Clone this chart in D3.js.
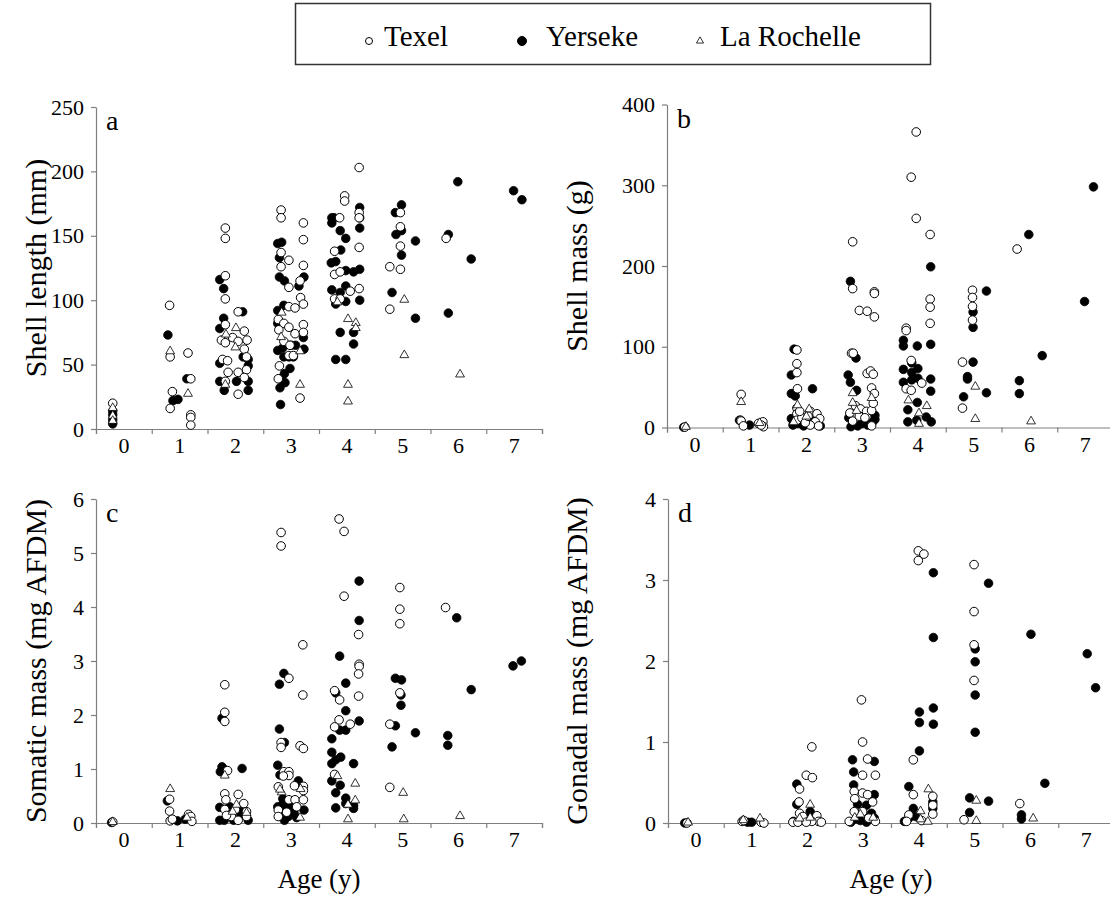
<!DOCTYPE html>
<html><head><meta charset="utf-8">
<script src="https://cdn.jsdelivr.net/npm/d3@7"></script>
<style>
html,body{margin:0;padding:0;background:#fff;}
svg text{font-family:"Liberation Serif","DejaVu Serif","Times New Roman",Times,serif;fill:#000;}
</style></head>
<body>
<svg id="chart" width="1110" height="899"></svg>
<script>
// ---------- DATA ----------
const ages = [0,1,2,3,4,5,6,7];
const sites = ["Texel","Yerseke","La Rochelle"];

// Panel a: shell length (mm), [age, value]
const aTexel = [[-0.2,20],
[0.82,96],[0.83,56],[1.15,59],[1.2,39],[0.87,29],[0.83,16],[1.2,11],[1.2,9],[1.2,3],
[1.82,156],[1.82,148],[1.82,119],[1.82,101],[2.05,91],[1.82,81],[2.16,76],[1.75,69],[1.82,67],[1.95,71],[2.05,68],[2.21,69],[2.16,62],[2.2,56],[1.77,54],[1.86,53],[2.2,46],[1.87,44],[2.05,44],[2.16,40],[1.82,37],[2.05,27],
[2.82,170],[2.82,164],[3.22,160],[3.22,147],[2.82,137],[2.96,131],[2.82,126],[3.22,127],[3.16,115],[2.96,110],[3.17,102],[3.22,97],[2.96,95],[3.07,94],[2.77,85],[2.87,82],[2.96,79],[3.22,81],[2.78,77],[3.07,74],[3.22,75],[2.87,68],[2.98,65],[2.96,57],[3.04,57],[2.79,49],[2.77,39],[3.16,24],
[4.22,203],[3.96,181],[3.96,177],[3.87,164],[4.22,168],[4.22,164],[4.22,141],[3.78,138],[3.78,120],[3.88,122],[4.22,109],[4.06,107],[3.78,101],[3.88,101],
[4.96,168],[4.96,157],[4.96,142],[4.77,126],[4.96,124],[4.77,93],
[5.78,148]];
const aYerseke = [[-0.2,14],[-0.2,11],[-0.2,7],[-0.2,4],
[0.79,73],[1.13,39],[0.88,22],[0.97,23],
[1.72,116],[1.79,109],[2.13,91],[1.79,86],[1.72,78],[2.14,56],[2.23,54],[1.72,51],[2.23,49],[1.72,37],[2.02,37],[2.23,37],[1.8,30],[2.23,30],
[2.76,144],[2.83,145],[2.79,133],[2.79,118],[2.88,115],[3.23,118],[3.14,111],[2.87,96],[2.76,92],[2.76,82],[3.22,71],[3.0,65],[3.08,65],[2.76,61],[2.85,63],[3.23,62],[2.87,56],[2.96,56],[3.04,56],[2.98,47],[2.88,43],[2.81,39],[2.89,36],[2.8,32],[2.81,19],
[4.23,172],[3.73,164],[3.77,164],[3.73,160],[4.23,164],[4.23,156],[3.88,154],[3.98,148],[3.89,139],[3.72,129],[3.8,130],[3.98,123],[4.12,122],[4.23,124],[3.98,111],[3.73,108],[3.88,106],[3.98,99],[4.23,100],[3.8,97],[4.12,75],[3.88,75],[4.12,66],[3.8,54],[3.98,54],
[4.98,174],[4.87,168],[4.98,154],[4.88,151],[5.23,146],[4.98,135],[4.81,106],[5.23,86],
[5.99,192],[5.82,151],[6.23,132],[5.82,90],
[6.99,185],[7.14,178]];
const aLaRochelle = [[-0.2,16],[-0.2,10],[-0.2,6],
[0.83,60],[1.15,27],
[2.01,78],[1.83,73],[2.0,63],[1.82,34],
[2.83,90],[2.82,71],[3.16,60],[3.16,34],
[3.83,98],[4.02,85],[4.16,82],[4.16,78],[4.02,34],[4.02,21],
[5.03,100],[5.03,57],
[6.03,42]];

// Panel b: shell mass (g)
const bTexel = [[-0.18,0.5],
[0.83,41],[0.82,9],[0.83,8],[0.87,2],[1.14,5],[1.22,7],[1.23,1],[1.19,3],
[1.83,96],[1.83,79],[1.83,68],[1.84,48],[1.83,24],[1.83,17],[1.83,9],[2.07,20],[2.19,17],[2.24,11],[2.16,7],[2.07,3],[2.22,2],[1.92,12],[1.98,6],[2.03,14],[1.88,20],
[2.83,230],[2.83,172],[2.95,145],[3.22,168],[3.22,166],[3.09,144],[3.22,137],[2.81,92],[2.84,92],[3.09,67],[3.15,70],[3.2,66],[3.17,49],[3.22,42],[2.88,27],[2.97,23],[3.08,20],[3.17,21],[2.83,8],[3.17,2],[2.95,14],[3.05,12],[3.2,30],[2.78,18],
[3.97,366],[3.88,310],[3.97,259],[4.22,239],[4.22,159],[4.22,149],[4.22,129],[3.79,123],[3.79,120],[3.88,83],[4.07,55],[3.79,48],[3.88,46],
[4.98,170],[4.98,161],[4.98,150],[4.98,133],[4.8,81],[4.8,24],
[5.78,221]];
const bYerseke = [[-0.2,0.3],
[0.8,9],[0.98,3],
[1.78,97],[1.73,65],[2.11,48],[1.73,42],[1.8,39],[1.73,11],[1.76,3],[1.95,2],[2.25,2],[2.12,8],[1.85,5],
[2.79,181],[2.89,86],[2.75,65],[2.79,56],[2.9,46],[3.23,15],[3.23,10],[2.76,12],[2.84,4],[2.92,2],[3.0,5],[3.1,3],[3.18,6],[2.8,1],[3.04,8],
[4.23,199],[3.74,108],[3.74,101],[3.99,101],[4.23,103],[3.89,80],[3.74,72],[4.0,73],[3.89,68],[3.89,59],[3.74,56],[4.0,61],[4.23,60],[4.23,45],[3.99,31],[3.82,22],[4.15,13],[3.82,7],[4.24,7],[3.98,9],
[5.23,169],[4.99,143],[4.99,124],[4.99,81],[4.89,63],[4.89,60],[4.82,38],[5.23,43],
[5.99,239],[6.23,89],[5.82,58],[5.82,42],
[7.15,298],[6.99,156]];
const bLaRochelle = [[-0.16,0.3],
[0.83,31],[1.16,5],
[1.84,27],[2.05,22],[1.77,6],[2.0,13],
[2.83,42],[2.83,30],[3.17,36],[2.9,20],
[3.83,33],[4.16,26],[4.02,17],[4.02,4],
[5.03,50],[5.03,10],
[6.03,7]];

// Panel c: somatic mass (mg AFDM)
const cTexel = [[-0.2,0.02],
[0.82,0.44],[0.82,0.22],[0.83,0.04],[0.87,0.07],[1.16,0.16],[1.2,0.12],[1.22,0.03],
[1.81,2.56],[1.81,2.05],[1.81,1.88],[1.86,0.97],[1.81,0.54],[1.83,0.43],[2.05,0.53],[2.15,0.36],[1.81,0.25],[2.2,0.21],[2.2,0.12],[1.93,0.12],[2.05,0.05],[1.84,0.14],[2.0,0.25],
[2.82,5.38],[2.82,5.13],[3.21,3.3],[2.96,2.68],[3.21,2.37],[2.82,1.49],[2.82,1.4],[3.16,1.43],[3.22,1.38],[2.87,0.95],[2.96,0.95],[2.96,0.88],[2.86,0.87],[2.77,0.67],[3.06,0.69],[3.22,0.68],[3.22,0.6],[2.96,0.43],[3.07,0.43],[3.22,0.43],[2.77,0.24],[2.77,0.12],[3.1,0.3],[2.92,0.2],
[3.86,5.63],[3.95,5.4],[3.95,4.2],[4.21,3.49],[4.22,2.94],[4.22,2.9],[4.21,2.76],[3.78,2.45],[3.87,2.28],[4.21,2.35],[3.86,1.91],[3.78,1.78],[4.06,1.83],[3.78,0.9],
[4.95,4.36],[4.95,3.96],[4.95,3.69],[4.95,2.41],[4.77,1.83],[4.77,0.66],
[5.77,3.99]];
const cYerseke = [[-0.22,0.01],
[0.78,0.41],[0.96,0.04],[1.1,0.07],
[1.76,1.94],[1.76,1.04],[1.8,0.99],[1.73,0.95],[2.12,1.01],[1.72,0.29],[2.14,0.24],[1.72,0.05],[1.8,0.05],[1.97,0.05],[2.23,0.05],[2.1,0.15],[1.9,0.3],
[2.87,2.77],[2.79,2.57],[2.79,1.74],[2.88,1.49],[2.76,1.07],[2.8,0.89],[3.13,0.78],[3.23,0.24],[2.85,0.45],[2.85,0.35],[2.9,0.3],[2.95,0.25],[3.0,0.3],[3.05,0.2],[2.8,0.15],[2.88,0.05],[2.95,0.12],[3.1,0.1],[2.76,0.3],
[4.22,4.48],[4.22,3.75],[3.87,3.09],[3.98,2.59],[3.8,2.41],[3.98,2.08],[4.22,1.89],[3.87,1.72],[3.98,1.72],[3.73,1.56],[3.73,1.31],[3.89,1.22],[3.8,1.17],[3.73,1.1],[4.12,1.1],[3.73,0.78],[3.88,0.7],[3.8,0.56],[3.98,0.46],[3.98,0.36],[4.12,0.33],[3.8,0.28],[4.12,0.27],
[4.87,2.68],[4.98,2.65],[4.97,2.37],[4.97,2.18],[4.87,1.8],[5.23,1.67],[4.81,1.41],
[5.97,3.8],[6.23,2.47],[5.81,1.62],[5.81,1.44],
[6.98,2.91],[7.13,3.0]];
const cLaRochelle = [[-0.2,0.01],
[0.83,0.62],[1.13,0.09],
[1.81,0.87],[2.02,0.33],[2.2,0.18],[1.95,0.2],
[2.83,0.56],[3.17,0.62],[3.16,0.09],[2.8,0.61],
[3.83,0.86],[4.15,0.72],[4.15,0.41],[4.02,0.33],[4.02,0.06],
[5.01,0.55],[5.02,0.06],
[6.03,0.12]];

// Panel d: gonadal mass (mg AFDM)
const dTexel = [[-0.16,0.0],
[0.83,0.02],[0.86,0.03],[1.17,0.01],[1.22,0.0],
[2.08,0.94],[1.98,0.59],[2.09,0.56],[1.86,0.42],[1.85,0.26],[1.86,0.12],[1.92,0.08],[2.17,0.09],[2.2,0.02],[2.08,0.02],[1.74,0.01],[1.83,0.01],[1.98,0.01],[2.25,0.01],
[2.97,1.52],[2.99,1.0],[3.08,0.79],[2.99,0.59],[3.22,0.59],[2.84,0.39],[2.99,0.37],[3.08,0.35],[2.85,0.3],[3.17,0.26],[2.99,0.14],[2.84,0.14],[3.22,0.02],[2.75,0.02],[3.1,0.06],
[3.99,3.36],[4.09,3.32],[3.99,3.24],[3.9,0.78],[3.9,0.35],[4.25,0.33],[4.25,0.22],[4.25,0.11],[3.82,0.1],[3.78,0.02],[4.05,0.03],
[4.99,3.19],[4.99,2.61],[4.99,2.2],[4.99,1.76],[4.81,0.04],
[5.81,0.24]];
const dYerseke = [[-0.2,0.0],
[1.0,0.01],[0.93,0.01],
[1.81,0.48],[1.81,0.23],[2.05,0.14],[1.75,0.02],[2.0,0.05],[1.9,0.03],
[2.81,0.78],[3.2,0.76],[2.83,0.63],[2.83,0.47],[3.2,0.35],[2.9,0.23],[3.06,0.22],[3.15,0.12],[3.2,0.06],[2.87,0.05],[2.95,0.03],[3.06,0.01],[2.78,0.01],
[4.26,3.09],[4.26,2.29],[4.01,1.37],[4.01,1.24],[4.26,1.42],[4.26,1.22],[4.01,0.89],[3.82,0.45],[4.25,0.26],[4.25,0.18],[3.9,0.18],[3.74,0.02],[3.82,0.06],[3.94,0.08],
[5.25,2.96],[5.01,2.15],[5.01,1.99],[5.01,1.58],[5.01,1.12],[4.91,0.31],[5.25,0.27],[4.91,0.13],
[6.01,2.33],[6.26,0.49],[5.84,0.1],[5.84,0.05],
[7.02,2.09],[7.17,1.67]];
const dLaRochelle = [[-0.14,0.0],
[0.85,0.03],[1.15,0.05],
[2.05,0.22],[1.86,0.05],[2.05,0.06],
[2.85,0.06],[3.18,0.06],[2.95,0.1],
[4.17,0.41],[4.03,0.14],[4.16,0.01],[4.03,0.04],
[5.03,0.27],[5.03,0.02],
[6.05,0.05]];

const yTicksA = [0,50,100,150,200,250];
const yTicksB = [0,100,200,300,400];
const yTicksC = [0,1,2,3,4,5,6];
const yTicksD = [0,1,2,3,4];

// ---------- LAYOUT ----------
const FONT = '"Liberation Serif","DejaVu Serif","Times New Roman",Times,serif';
const svg = d3.select("#chart");
const axisColor = "#7f7f7f";
const panels = [
  {letter:"a", T:aTexel, Y:aYerseke, L:aLaRochelle, ticks:yTicksA, x0:96,  y0:429, yTop:107, title:"Shell length (mm)", titleX:35, xTitle:false},
  {letter:"b", T:bTexel, Y:bYerseke, L:bLaRochelle, ticks:yTicksB, x0:667, y0:427.5, yTop:104.5, title:"Shell mass (g)", titleX:576, xTitle:false},
  {letter:"c", T:cTexel, Y:cYerseke, L:cLaRochelle, ticks:yTicksC, x0:96,  y0:823, yTop:499, title:"Somatic mass (mg AFDM)", titleX:35, xTitle:true},
  {letter:"d", T:dTexel, Y:dYerseke, L:dLaRochelle, ticks:yTicksD, x0:668, y0:823, yTop:499, title:"Gonadal mass (mg AFDM)", titleX:576, xTitle:true}
];
const bandW = 55.75;
const triPath = d3.symbol().type(d3.symbolTriangle).size(34)();

panels.forEach(p => {
  const g = svg.append("g");
  const x = d3.scaleLinear().domain([-0.5, 7.5]).range([p.x0, p.x0 + 8*bandW]);
  const yMax = p.ticks[p.ticks.length-1];
  const y = d3.scaleLinear().domain([0, yMax]).range([p.y0, p.yTop]);

  const xa = g.append("g").attr("transform", `translate(0,${p.y0})`)
    .call(d3.axisBottom(x).tickValues(d3.range(-0.5, 8, 1)).tickSize(5).tickFormat(""));
  xa.select(".domain").attr("stroke", axisColor).attr("stroke-width", 1.2);
  xa.selectAll(".tick line").attr("stroke", axisColor).attr("stroke-width", 1.2);
  g.selectAll(".xl").data(ages).join("text")
    .attr("x", d => x(d)).attr("y", p.y0 + 24)
    .attr("text-anchor", "middle").attr("font-size", 22).attr("font-family", FONT).text(d => d);

  const ya = g.append("g").attr("transform", `translate(${p.x0},0)`)
    .call(d3.axisLeft(y).tickValues(p.ticks).tickSize(5).tickPadding(7).tickSizeOuter(0).tickFormat(d3.format("d")));
  ya.attr("font-family", FONT);
  ya.select(".domain").attr("stroke", axisColor).attr("stroke-width", 1.2);
  ya.selectAll(".tick line").attr("stroke", axisColor).attr("stroke-width", 1.2);
  ya.selectAll(".tick text").attr("font-size", 22).attr("fill", "#000").attr("font-family", FONT);

  g.append("text").attr("x", p.x0 + 10).attr("y", p.yTop + 23)
    .attr("font-size", 28).attr("font-family", FONT).text(p.letter);

  g.append("text").attr("transform", `translate(${p.titleX},${(p.y0 + p.yTop)/2}) rotate(-90)`)
    .attr("text-anchor", "middle").attr("dominant-baseline", "central")
    .attr("font-size", 30).attr("font-family", FONT).text(p.title);

  if (p.xTitle) {
    g.append("text").attr("x", x(3.5)).attr("y", 888)
      .attr("text-anchor", "middle").attr("font-size", 27).attr("font-family", FONT).text("Age (y)");
  }

  g.append("g").selectAll("circle").data(p.Y).join("circle")
    .attr("cx", d => x(d[0])).attr("cy", d => y(d[1])).attr("r", 4.3)
    .attr("fill", "#000").attr("stroke", "#000").attr("stroke-width", 0.8);
  g.append("g").selectAll("circle").data(p.T).join("circle")
    .attr("cx", d => x(d[0])).attr("cy", d => y(d[1])).attr("r", 4.3)
    .attr("fill", "#fff").attr("stroke", "#000").attr("stroke-width", 1);
  g.append("g").selectAll("path").data(p.L).join("path")
    .attr("d", triPath)
    .attr("transform", d => `translate(${x(d[0])},${y(d[1]) - 0.5})`)
    .attr("fill", "#fff").attr("stroke", "#000").attr("stroke-width", 0.8);
});

// ---------- LEGEND ----------
const lg = svg.append("g");
lg.append("rect").attr("x", 295.5).attr("y", 3.5).attr("width", 635).attr("height", 61)
  .attr("fill", "#fff").attr("stroke", "#333").attr("stroke-width", 1.5);
const legendItems = [
  {site: sites[0], mx: 369, tx: 384, kind: "open"},
  {site: sites[1], mx: 522, tx: 546, kind: "filled"},
  {site: sites[2], mx: 700, tx: 720, kind: "tri"}
];
legendItems.forEach(it => {
  if (it.kind === "tri") {
    lg.append("path").attr("d", d3.symbol().type(d3.symbolTriangle).size(22)())
      .attr("transform", `translate(${it.mx},41)`).attr("fill", "#fff").attr("stroke", "#000").attr("stroke-width", 0.8);
  } else {
    lg.append("circle").attr("cx", it.mx).attr("cy", 41).attr("r", it.kind === "filled" ? 4.5 : 3.5)
      .attr("fill", it.kind === "filled" ? "#000" : "#fff").attr("stroke", "#000").attr("stroke-width", 1);
  }
  lg.append("text").attr("x", it.tx).attr("y", 46).attr("font-size", 29).attr("font-family", FONT).text(it.site);
});
</script>
</body></html>
